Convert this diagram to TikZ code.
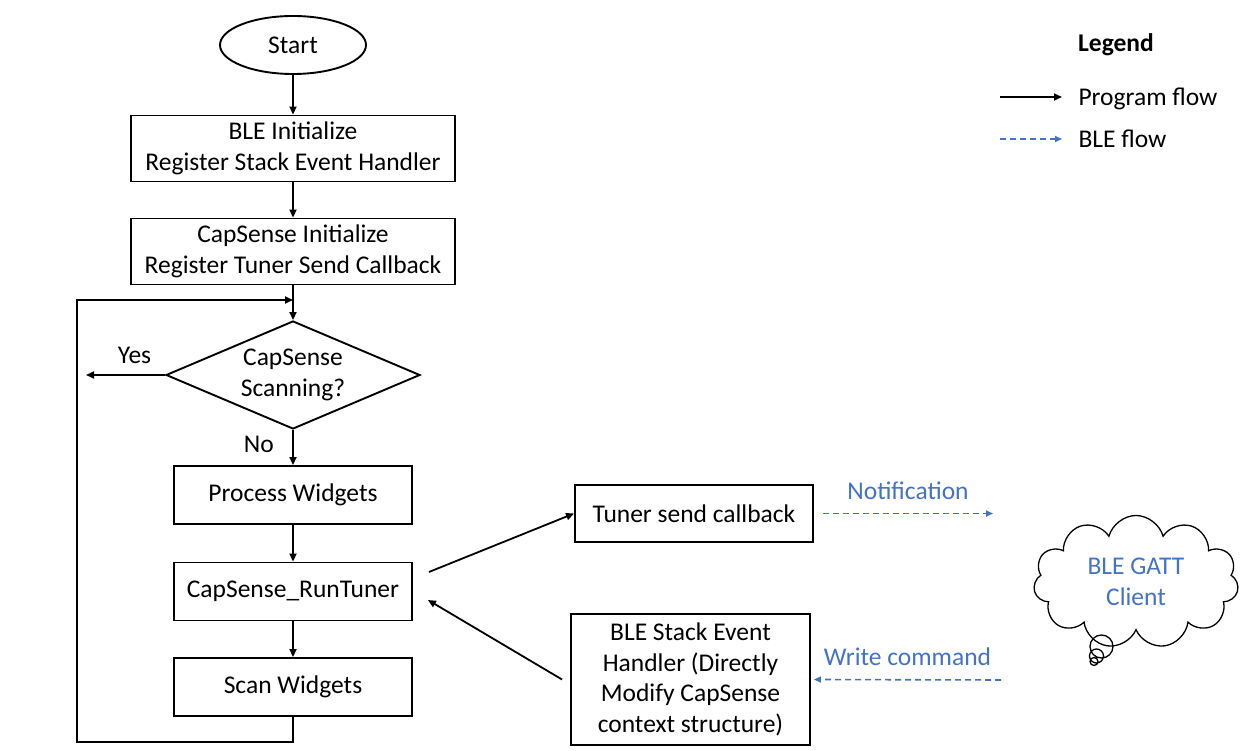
\documentclass[tikz,border=0pt]{standalone}
\usepackage{fontspec}
\setmainfont{Carlito}
\usetikzlibrary{shapes.geometric, shapes.symbols, arrows.meta}
\definecolor{bleblue}{HTML}{4472C4}
\tikzstyle{terminal} = [ellipse,
minimum width=146pt,
minimum height=58pt,
text centered,
draw=black,
line width=1.9pt]
\tikzstyle{process} = [rectangle,
minimum width=238pt,
minimum height=58pt,
align=center,
draw=black,
line width=1.9pt]
\tikzstyle{init} = [process,
minimum width=324pt,
minimum height=66pt]
\tikzstyle{decision} = [diamond,
aspect=2.35,
inner sep=0pt,
minimum width=254pt,
minimum height=108pt,
align=center,
draw=black,
line width=1.9pt]
\tikzstyle{arrow} = [line width=1.8pt,-{Triangle[length=8pt,width=7pt]}]
\tikzstyle{bleflow} = [bleblue, line width=1.6pt, dash pattern=on 6pt off 4pt,
-{Triangle[length=7pt,width=6pt]}]
\begin{document}
\begin{tikzpicture}[x=1pt, y=1pt, node distance=100pt, font=\fontsize{25.5}{30.5}\selectfont]
  \useasboundingbox (0,0) rectangle (1251,-751);
  \node (start) [terminal] at (293,-45) {Start};
  \node (init1) [init, below of=start, yshift=-3.5pt] {BLE Initialize\\Register Stack Event Handler};
  \node (init2) [init, below of=init1, yshift=-3pt] {CapSense Initialize\\Register Tuner Send Callback};
  \node (dec1) [decision, below of=init2, yshift=-23.5pt] {CapSense\\Scanning?};
  \node (pro1) [process, below of=dec1, yshift=-20pt] {Process Widgets};
  \node (pro2) [process, below of=pro1, yshift=3.5pt] {CapSense\_RunTuner};
  \node (pro3) [process, below of=pro2, yshift=4.5pt] {Scan Widgets};
  \node (tuner) [process, minimum height=57pt, right of=pro1, xshift=301pt, yshift=-18.5pt] {Tuner send callback};
  \node (stack) [process, minimum width=239pt, minimum height=131pt, right of=pro3, xshift=297.5pt, yshift=7.5pt] {
    BLE Stack Event\\Handler (Directly\\Modify CapSense\\context structure)
  };
  \node (client) [cloud, cloud puffs=11, aspect=1.55, draw, line width=1.3pt,
    minimum width=205pt, minimum height=133pt, align=center, text=bleblue] at (1136,-582) {BLE GATT\\Client};
  \draw [line width=1.3pt] (1101.5,-646.5) circle (11.5) (1096.5,-656) circle (7) (1094,-661.5) circle (4);

  % legend
  \node (legend) [font=\fontsize{25.5}{30.5}\selectfont\bfseries] at (1116,-45) {Legend};
  \node (lgprog) [anchor=west] at (1075,-99) {Program flow};
  \node (lgble) [anchor=west] at (1075,-139) {BLE flow};
  \coordinate (lgp) at (1000,-97);
  \coordinate (lgb) at (1000,-139);
  \draw [arrow] (lgp) -- ([xshift=-13pt, yshift=2pt]lgprog.west);
  \draw [bleflow] (lgb) -- ([xshift=-13pt]lgble.west);

  \coordinate (yes) at (86,-375);
  \coordinate (back) at (293,-300);
  \coordinate (notend) at (993,-513.5);
  \coordinate (wrstart) at (1001,-680);

  \draw [arrow] (start) -- (init1);
  \draw [arrow] (init1) -- (init2);
  \draw [arrow] (init2) -- (dec1);
  \draw [arrow] (dec1.west) -- node[above, yshift=7pt, xshift=9pt] {Yes} (yes);
  \draw [arrow] (dec1) -- node[left, xshift=-15pt, yshift=3pt] {No} (pro1);
  \draw [arrow] (pro1) -- (pro2);
  \draw [arrow] (pro2) -- (pro3);
  \draw [arrow] (pro3.south) -- ++(0,-25) -| (77,-300) -- (back);
  \draw [arrow] ([shift={(16,19.5)}]pro2.east) -- (tuner.west);
  \draw [arrow] ([xshift=-8pt]stack.west) -- ([shift={(15,-8.5)}]pro2.east);
  \draw [bleflow] ([xshift=9pt]tuner.east) -- node[above, yshift=10pt, text=bleblue] {Notification} (notend);
  \draw [bleflow] (wrstart) -- node[above, yshift=10pt, text=bleblue] {Write command} ([xshift=3pt]stack.east);
\end{tikzpicture}
\end{document}
